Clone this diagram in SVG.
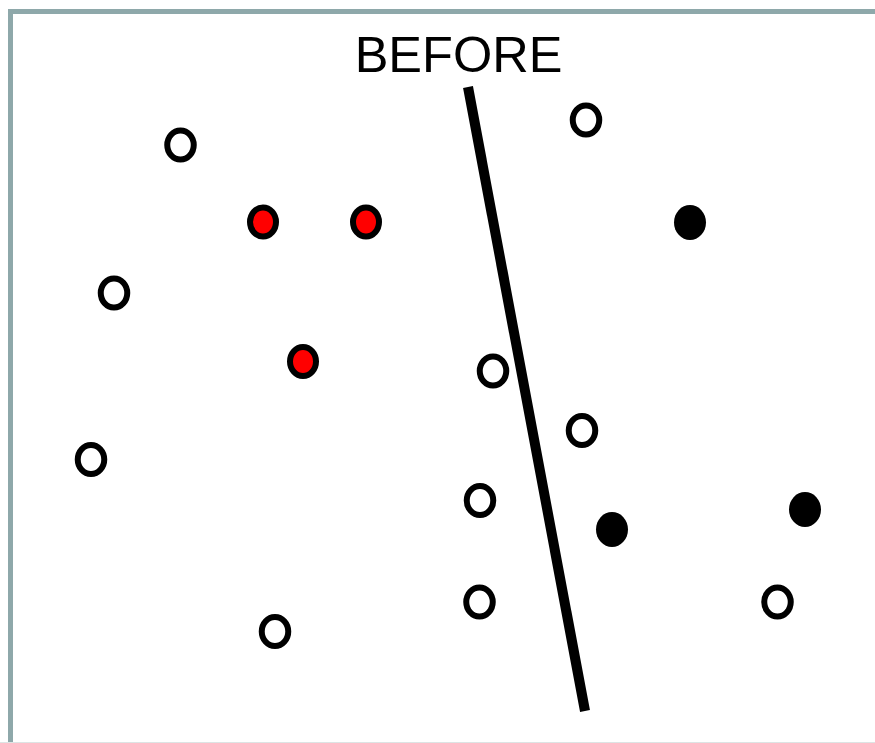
<svg xmlns="http://www.w3.org/2000/svg" width="875" height="743" viewBox="0 0 875 743">
<style>
.open{fill:#fff;stroke:#000;stroke-width:6}
.red{fill:#f00;stroke:#000;stroke-width:6}
.blk{fill:#000;stroke:none}
.title{font-family:"Liberation Sans",Arial,sans-serif;font-size:50.5px;fill:#000}
</style>
<rect x="0" y="0" width="875" height="743" fill="#fff"/>
<g id="frame">
<path d="M10.5 743 V11.5 H875" fill="none" stroke="#8ea8aa" stroke-width="5"/>
<line x1="0" y1="742.5" x2="875" y2="742.5" stroke="#dde4e4" stroke-width="1"/>
</g>
<text id="title" class="title" x="458.5" y="71.5" text-anchor="middle">BEFORE</text>
<g id="connectors">
<line x1="468" y1="87" x2="585" y2="711" stroke="#000" stroke-width="10"/>
</g>
<g id="n1"><ellipse class="open" cx="180.5" cy="145" rx="13.25" ry="14.5"/></g>
<g id="n2"><ellipse class="open" cx="114" cy="293" rx="13.25" ry="14.5"/></g>
<g id="n3"><ellipse class="open" cx="91" cy="459.5" rx="13.25" ry="14.5"/></g>
<g id="n4"><ellipse class="open" cx="275" cy="631.5" rx="13.25" ry="14.5"/></g>
<g id="n5"><ellipse class="open" cx="586" cy="120" rx="13.25" ry="14.5"/></g>
<g id="n6"><ellipse class="open" cx="493" cy="371" rx="13.25" ry="14.5"/></g>
<g id="n7"><ellipse class="open" cx="582" cy="430.5" rx="13.25" ry="14.5"/></g>
<g id="n8"><ellipse class="open" cx="480" cy="500.5" rx="13.25" ry="14.5"/></g>
<g id="n9"><ellipse class="open" cx="479.5" cy="602" rx="13.25" ry="14.5"/></g>
<g id="n10"><ellipse class="open" cx="777.5" cy="602" rx="13.25" ry="14.5"/></g>
<g id="r1"><ellipse class="red" cx="263" cy="222" rx="13" ry="14.5"/></g>
<g id="r2"><ellipse class="red" cx="366" cy="222" rx="13" ry="14.5"/></g>
<g id="r3"><ellipse class="red" cx="303" cy="361.5" rx="13" ry="14.5"/></g>
<g id="b1"><ellipse class="blk" cx="690" cy="222.5" rx="16" ry="17.5"/></g>
<g id="b2"><ellipse class="blk" cx="612" cy="529.5" rx="16" ry="17.5"/></g>
<g id="b3"><ellipse class="blk" cx="805" cy="509.5" rx="16" ry="17.5"/></g>
</svg>
